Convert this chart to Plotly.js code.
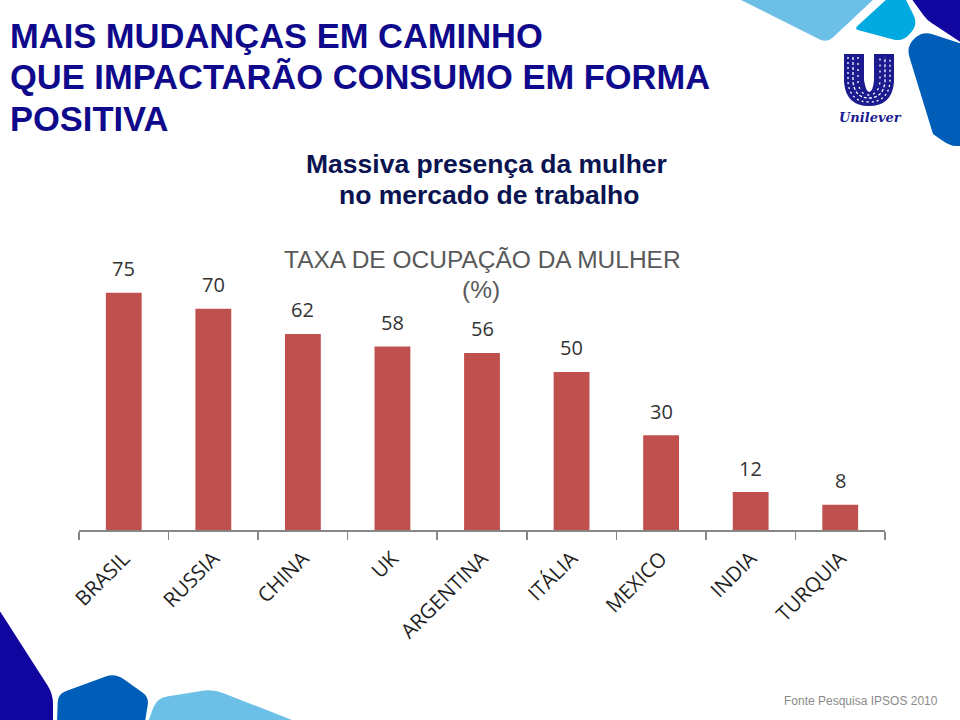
<!DOCTYPE html>
<html><head><meta charset="utf-8">
<script src="https://cdn.plot.ly/plotly-3.0.1.min.js"></script>
<style>html,body{margin:0;padding:0;background:#fff}</style></head>
<body><div id="chart" style="width:960px;height:720px"></div>
<script>
var categories = ["BRASIL","RUSSIA","CHINA","UK","ARGENTINA","ITÁLIA","MEXICO","INDIA","TURQUIA"];
var values = [75,70,62,58,56,50,30,12,8];
var titleLines = ["MAIS MUDANÇAS EM CAMINHO","QUE IMPACTARÃO CONSUMO EM FORMA","POSITIVA"];
var W=960,H=720;
function px(x){return x/W;} function py(y){return 1-y/H;}
function rounded(pts,r){
  var n=pts.length,d="";
  for(var i=0;i<n;i++){
    var p=pts[i],a=pts[(i+n-1)%n],b=pts[(i+1)%n],rr=p[2]===undefined?r:p[2];
    var la=Math.hypot(a[0]-p[0],a[1]-p[1]),lb=Math.hypot(b[0]-p[0],b[1]-p[1]);
    var ra=Math.min(rr,la/2),rb=Math.min(rr,lb/2);
    var s=[p[0]+(a[0]-p[0])*ra/la,p[1]+(a[1]-p[1])*ra/la],e=[p[0]+(b[0]-p[0])*rb/lb,p[1]+(b[1]-p[1])*rb/lb];
    d+=(i?"L":"M")+px(s[0])+","+py(s[1])+"Q"+px(p[0])+","+py(p[1])+" "+px(e[0])+","+py(e[1]);
  }
  return d+"Z";
}
function deco(pts,color,r){return {type:"path",xref:"paper",yref:"paper",path:rounded(pts,r),fillcolor:color,line:{width:0},layer:"below"};}
var shapes=[
 deco([[737,-2,0],[827,43,8],[875,-2,0]],"#6cc0e7",8),
 deco([[854,29,5],[888,-2,0],[905,-2,0],[918,24,10],[903,42,10]],"#00a9e0",8),
 deco([[911,-2,0],[927,20,6],[962,43,0],[962,-2,0]],"#10069f",6),
 deco([[906,46,12],[923,31,10],[962,44,0],[962,146,0],[950,146,10],[933,134,0]],"#005eb8",10),
 deco([[-2,608,0],[53,694,10],[53,722,0],[-2,722,0]],"#10069f",8),
 deco([[58,694,8],[115,673,10],[149,697,8],[145,722,0],[57,722,0]],"#005eb8",8),
 deco([[157,698,10],[213,689,12],[297,722,0],[148,722,0]],"#6cc0e7",10)
];
// Unilever logo mark
shapes.push({type:"path",xref:"paper",yref:"paper",layer:"below",fillcolor:"#1b1a8f",line:{width:0},
 path:"M"+px(844)+","+py(54)+"L"+px(864)+","+py(54)+"L"+px(864)+","+py(80)+"Q"+px(866)+","+py(92)+" "+px(869)+","+py(92)+"Q"+px(873)+","+py(92)+" "+px(874)+","+py(80)+"L"+px(874)+","+py(54)+"L"+px(894)+","+py(54)+"L"+px(894)+","+py(82)+"Q"+px(892)+","+py(106)+" "+px(869)+","+py(106)+"Q"+px(846)+","+py(106)+" "+px(844)+","+py(82)+"Z"});
[[848,890,102,"2px,3px"],[853,885,98,"3px,2px"],[858,880,95,"2px,4px"]].forEach(function(u){
 shapes.push({type:"path",xref:"paper",yref:"paper",layer:"below",fillcolor:"rgba(0,0,0,0)",line:{width:1.3,color:"#ffffff",dash:u[3]},
  path:"M"+px(u[0])+","+py(57)+"L"+px(u[0])+","+py(82)+"Q"+px(u[0]+2)+","+py(u[2])+" "+px(869)+","+py(u[2])+"Q"+px(u[1]-2)+","+py(u[2])+" "+px(u[1])+","+py(82)+"L"+px(u[1])+","+py(57)});
});

function txt(text,x,y,size,color,opt){
  return Object.assign({xref:"paper",yref:"paper",x:px(x),y:py(y),text:text,showarrow:false,xanchor:"left",yanchor:"middle",
   font:{family:"Liberation Sans",size:size,color:color}},opt||{});
}
var navy="#0f0a8c", deep="#0a1450", grey="#595959";
var ann=[
 txt("<b>"+titleLines[0]+"</b>",8,36,34.5,navy),
 txt("<b>"+titleLines[1]+"</b>",8,77,34.5,navy),
 txt("<b>"+titleLines[2]+"</b>",8,119,34.5,navy),
 txt("<b>Massiva presença da mulher</b>",486,164,26.5,deep,{xanchor:"center"}),
 txt("<b>no mercado de trabalho</b>",489,195,26.5,deep,{xanchor:"center"}),
 txt("TAXA DE OCUPAÇÃO DA MULHER",482,259,24.5,grey,{xanchor:"center"}),
 txt("(%)",481,289,24.5,grey,{xanchor:"center"}),
 txt("Fonte Pesquisa IPSOS 2010",861,701,12,"#8a8a8a",{xanchor:"center"}),
 txt("<i><b>Unilever</b></i>",870,118,15,"#1b1a8f",{xanchor:"center",font:{family:"DejaVu Serif",size:13,color:"#1b1a8f"}})
];
categories.forEach(function(c,i){
  ann.push({xref:"x",yref:"y",x:c,y:values[i],yshift:24,text:String(values[i]),showarrow:false,xanchor:"center",yanchor:"middle",
    font:{family:"Open Sans",size:20,color:"#333333"}});
});
var trace={type:"bar",x:categories,y:values,marker:{color:"#c0504d",line:{width:0}},hoverinfo:"skip"};
var layout={width:W,height:H,margin:{l:0,r:0,t:0,b:0},paper_bgcolor:"#fff",plot_bgcolor:"rgba(0,0,0,0)",showlegend:false,bargap:0.6,
 xaxis:{domain:[79/W,885/W],type:"category",tickson:"boundaries",ticks:"outside",ticklen:8,tickwidth:1.5,tickcolor:"#868686",showline:true,linecolor:"#868686",linewidth:1.5,
   tickangle:-45,ticklabelstandoff:7,tickfont:{family:"Open Sans",size:20.5,color:"#1f1f1f"},showgrid:false,automargin:false,anchor:"y"},
 yaxis:{domain:[1-530/H,1-277/H],range:[0,80],visible:false,showgrid:false,zeroline:false,automargin:false},
 shapes:shapes,annotations:ann};
Plotly.newPlot("chart",[trace],layout,{displayModeBar:false,staticPlot:true});
</script></body></html>
